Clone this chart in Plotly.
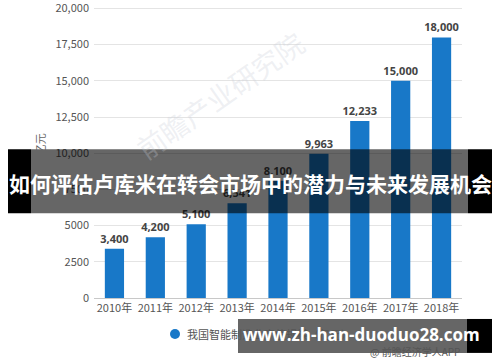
import plotly.graph_objects as go

years = ["2010年", "2011年", "2012年", "2013年", "2014年", "2015年", "2016年", "2017年", "2018年"]
values = [3400, 4200, 5100, 6541, 8100, 9963, 12233, 15000, 18000]
value_labels = ["3,400", "4,200", "5,100", "6,541", "8,100", "9,963", "12,233", "15,000", "18,000"]
y_ticks = [0, 2500, 5000, 7500, 10000, 12500, 15000, 17500, 20000]
y_tick_labels = ["0", "2500", "5000", "7500", "10,000", "12,500", "15,000", "17,500", "20,000"]
series_name = "我国智能制造业产值规模（亿元）"
title_text = "如何评估卢库米在转会市场中的潜力与未来发展机会"
watermark = "www.zh-han-duoduo28.com"

W, H = 500, 362
L, R, B = 94, 462, 298
YMAX = 20100
T = B - 290 * YMAX / 20000
FONT = "Noto Sans CJK SC, Open Sans, sans-serif"

def px(x):
    return (x - L) / (R - L)

def py(y):
    return (B - y) / (B - T)

def note(x, y, text, size, color, family=FONT, xanchor="center", angle=0):
    fig.add_annotation(xref="paper", yref="paper", x=px(x), y=py(y), text=text,
                       xanchor=xanchor, yanchor="middle", showarrow=False, textangle=angle,
                       font=dict(size=size, color=color, family=family))

fig = go.Figure()
fig.add_trace(go.Bar(
    x=years, y=values, text=value_labels, textposition="outside",
    texttemplate="<b>%{text}</b>",
    constraintext="none",
    textfont=dict(color="#444", size=11, family="Open Sans, sans-serif"),
    marker=dict(color="#1878c8", line=dict(width=0)),
    cliponaxis=False, showlegend=False, hoverinfo="skip",
))

fig.update_layout(
    width=W, height=H,
    margin=dict(l=L, r=W - R, t=T, b=H - B, autoexpand=False),
    paper_bgcolor="white", plot_bgcolor="white",
    bargap=0.53,
    font=dict(family=FONT, color="#555"),
    xaxis=dict(showgrid=False, showline=True, linecolor="#c8c8c8", linewidth=1,
               ticks="", tickfont=dict(size=11, color="#555")),
    yaxis=dict(range=[0, YMAX], tickvals=y_ticks, ticktext=y_tick_labels,
               showgrid=True, gridcolor="#e4e4e4", zeroline=False,
               ticklabeloverflow="allow",
               tickfont=dict(size=11, color="#555"), ticklabelstandoff=4),
)

# faint watermark of research institute
note(220, 95, "前瞻产业研究院", 28, "rgba(200,205,215,0.3)", angle=-35)

# y-axis unit
note(40, 160, "单位：亿元", 11, "#666", angle=-90)

# legend
fig.add_shape(type="circle", xref="paper", yref="paper",
              x0=px(170), x1=px(180), y0=py(329), y1=py(339),
              fillcolor="#1878c8", line=dict(width=0))
note(185, 334, series_name, 11, "#555", xanchor="left")

# source
note(462, 352, "@ 前瞻经济学人APP", 10, "#555", xanchor="right")

# top banner
fig.add_shape(type="rect", xref="paper", yref="paper", x0=px(8), x1=px(31), y0=py(213), y1=py(149),
              fillcolor="black", line=dict(width=0), layer="above")
fig.add_shape(type="rect", xref="paper", yref="paper", x0=px(468), x1=px(492), y0=py(213), y1=py(149),
              fillcolor="black", line=dict(width=0), layer="above")
fig.add_shape(type="rect", xref="paper", yref="paper", x0=px(31), x1=px(468), y0=py(213), y1=py(149),
              fillcolor="rgba(0,0,0,0.6)", line=dict(width=0), layer="above")
note(250, 183, "<b>" + title_text + "</b>", 21, "white")

# bottom banner
fig.add_shape(type="rect", xref="paper", yref="paper", x0=px(238), x1=px(467), y0=py(353), y1=py(319),
              fillcolor="rgba(0,0,0,0.6)", line=dict(width=0), layer="above")
fig.add_shape(type="rect", xref="paper", yref="paper", x0=px(467), x1=px(492), y0=py(353), y1=py(319),
              fillcolor="black", line=dict(width=0), layer="above")
note(241, 335, "<b>" + watermark + "</b>", 17, "white", family="Open Sans, sans-serif", xanchor="left")

fig.write_html("out.html", config={"displayModeBar": False},
               post_script="document.body.style.margin='0';document.body.style.padding='0';")
